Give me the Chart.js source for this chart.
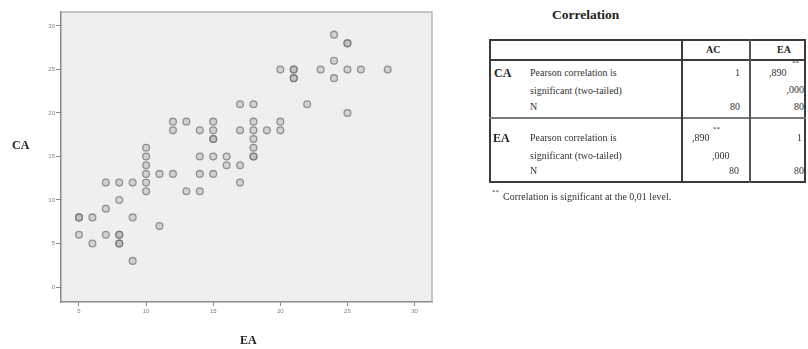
<!DOCTYPE html>
<html>
<head>
<meta charset="utf-8">
<script src="https://cdn.jsdelivr.net/npm/chart.js@4.4.1/dist/chart.umd.min.js"></script>
<style>
  body { margin:0; background:#fff; width:808px; height:349px; overflow:hidden; position:relative;
         font-family:"Liberation Serif","DejaVu Serif",serif; color:#222; }
  #wrap { position:absolute; left:0; top:0; width:450px; height:349px; }
  .t { position:absolute; white-space:nowrap; line-height:1; }
  .b { font-weight:bold; }
  .s9 { font-size:10px; color:#333; }
  .r { text-align:right; }
  .sup { font-size:7px; color:#333; }
  .ln { position:absolute; background:#3a3a3a; }
</style>
</head>
<body>
<div id="wrap"><canvas id="c" width="450" height="349"></canvas></div>

<!-- titulos de ejes (horizontales, estilo SPSS) -->
<div class="t b" style="left:12px;top:139px;font-size:12px">CA</div>
<div class="t b" style="left:240px;top:334px;font-size:12px">EA</div>

<!-- tabla de correlacion -->
<div class="t b" style="left:552px;top:8px;font-size:13.5px">Correlation</div>
<div class="ln" style="left:489px;top:39px;width:317px;height:2px"></div>
<div class="ln" style="left:489px;top:181px;width:317px;height:2px"></div>
<div class="ln" style="left:489px;top:39px;width:2px;height:144px"></div>
<div class="ln" style="left:804px;top:39px;width:2px;height:144px"></div>
<div class="ln" style="left:489px;top:59px;width:317px;height:2px"></div>
<div class="ln" style="left:489px;top:117px;width:317px;height:2px;background:#777"></div>
<div class="ln" style="left:681px;top:39px;width:2px;height:144px"></div>
<div class="ln" style="left:749px;top:39px;width:1.5px;height:144px;background:#555"></div>

<div class="t b" style="left:706px;top:45px;font-size:10px">AC</div>
<div class="t b" style="left:777px;top:45px;font-size:10px">EA</div>

<div class="t b" style="left:494px;top:67px;font-size:12px">CA</div>
<div class="t s9" style="left:530px;top:68px">Pearson correlation is</div>
<div class="t s9" style="left:530px;top:86px">significant (two-tailed)</div>
<div class="t s9" style="left:530px;top:102px">N</div>
<div class="t s9 r" style="right:68px;top:68px">1</div>
<div class="t s9 r" style="right:68px;top:102px">80</div>
<div class="t s9" style="left:769px;top:68px">,890</div>
<div class="t sup" style="left:792px;top:60px">**</div>
<div class="t s9 r" style="right:4px;top:85px">,000</div>
<div class="t s9 r" style="right:4px;top:102px">80</div>

<div class="t b" style="left:493px;top:132px;font-size:12px">EA</div>
<div class="t s9" style="left:530px;top:133px">Pearson correlation is</div>
<div class="t s9" style="left:530px;top:151px">significant (two-tailed)</div>
<div class="t s9" style="left:530px;top:166px">N</div>
<div class="t s9" style="left:692px;top:133px">,890</div>
<div class="t sup" style="left:713px;top:126px">**</div>
<div class="t s9" style="left:712px;top:151px">,000</div>
<div class="t s9 r" style="right:69px;top:166px">80</div>
<div class="t s9 r" style="right:6px;top:133px">1</div>
<div class="t s9 r" style="right:4px;top:166px">80</div>

<div class="t sup" style="left:492px;top:189px">**</div>
<div class="t s9" style="left:503px;top:192px">Correlation is significant at the 0,01 level.</div>

<script>
// Puntos del diagrama (EA en X, CA en Y). Repetidos = marcas superpuestas.
const eaValues = [10,10,10,10,11,12,7,8,9,10,10,8,7,5,5,6,9,11,5,7,8,8,6,8,8,9,
                  13,14,14,15,14,15,16,16,17,17,18,18,18,18,15,15,12,14,15,17,18,19,20,
                  12,13,15,18,20,17,18,22,25,20,21,21,21,21,23,24,25,26,28,24,25,25,24]
const caValues = [16,15,14,13,13,13,12,12,12,12,11,10,9,8,8,8,8,7,6,6,6,6,5,5,5,3,
                  11,11,13,13,15,15,15,14,14,12,15,15,16,17,17,17,18,18,18,18,18,18,18,
                  19,19,19,19,19,21,21,21,20,25,25,25,24,24,25,24,25,25,25,26,28,28,29]
const xTicks = [5, 10, 15, 20, 25, 30]
const yTicks = [0, 5, 10, 15, 20, 25, 30]

const points = eaValues.map((x, i) => ({ x, y: caValues[i] }))

// Fondo gris del area de trazado + marco superior/derecho
const plotFrame = {
  id: 'plotFrame',
  beforeDraw(chart) {
    const { ctx, chartArea: a } = chart
    ctx.save()
    ctx.fillStyle = '#efefef'
    ctx.fillRect(a.left, a.top, a.right - a.left, a.bottom - a.top)
    ctx.restore()
  },
  afterDraw(chart) {
    const { ctx, chartArea: a } = chart
    ctx.save()
    ctx.strokeStyle = '#b5b5b5'
    ctx.lineWidth = 1.5
    ctx.beginPath()
    ctx.moveTo(a.left, a.top); ctx.lineTo(a.right, a.top); ctx.lineTo(a.right, a.bottom)
    ctx.stroke()
    ctx.restore()
  }
}

const tickFont = { family: 'Liberation Sans', size: 6 }

new Chart(document.getElementById('c'), {
  type: 'scatter',
  data: {
    datasets: [{
      data: points,
      pointRadius: 3.4,
      pointHoverRadius: 3.4,
      borderWidth: 1.3,
      borderColor: 'rgba(110,110,110,0.7)',
      backgroundColor: 'rgba(175,175,175,0.45)',
    }]
  },
  options: {
    responsive: false,
    animation: false,
    devicePixelRatio: 1,
    layout: { padding: { top: 12, right: 18, left: 0, bottom: 0 } },
    plugins: { legend: { display: false }, tooltip: { enabled: false } },
    scales: {
      x: {
        type: 'linear',
        min: 3.66, max: 31.3,
        afterBuildTicks: s => { s.ticks = xTicks.map(v => ({ value: v })) },
        afterFit: s => { s.height = 47 },
        grid: { drawOnChartArea: false, tickLength: 4, color: '#888', lineWidth: 1 },
        border: { color: '#8a8a8a', width: 1.5 },
        ticks: { color: '#808080', font: tickFont, padding: 2, maxRotation: 0, autoSkip: false }
      },
      y: {
        type: 'linear',
        min: -1.72, max: 31.6,
        afterBuildTicks: s => { s.ticks = yTicks.map(v => ({ value: v })) },
        afterFit: s => { s.width = 61 },
        grid: { drawOnChartArea: false, tickLength: 5, color: '#888', lineWidth: 1 },
        border: { color: '#8a8a8a', width: 1.5 },
        ticks: { color: '#808080', font: tickFont, padding: 1, autoSkip: false }
      }
    }
  },
  plugins: [plotFrame]
})
</script>
</body>
</html>
